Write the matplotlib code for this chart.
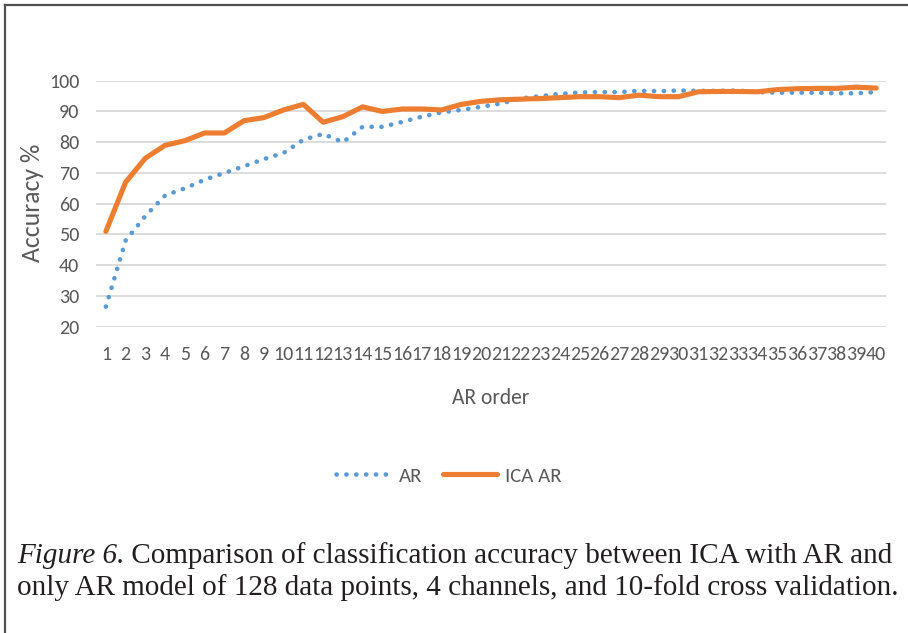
import numpy as np
import matplotlib.pyplot as plt
from matplotlib.lines import Line2D

# -------------------------------------------------------
# Data
# -------------------------------------------------------
orders = list(range(1, 41))
ar_acc = [26.5, 48, 56, 62.7, 65, 67.8, 70, 72.2, 74.5, 76.5,
          80.8, 82.7, 80, 85, 85, 86.6, 88.3, 89.7, 90.5, 91.5,
          92.6, 94.2, 95, 95.7, 96.2, 96.3, 96.3, 96.7, 96.6, 96.8,
          96.7, 96.7, 96.8, 96.3, 96.1, 96.1, 96.1, 95.9, 95.9, 96.3]
ica_ar_acc = [51, 67, 74.8, 79, 80.5, 83, 83, 87, 88, 90.5,
              92.3, 86.5, 88.3, 91.5, 90, 90.8, 90.8, 90.5, 92.3, 93.3,
              93.8, 94, 94.2, 94.5, 94.8, 94.8, 94.5, 95.3, 94.8, 94.8,
              96.4, 96.5, 96.5, 96.4, 97.1, 97.4, 97.5, 97.5, 97.9, 97.6]
yticks = [20, 30, 40, 50, 60, 70, 80, 90, 100]

BLUE = '#5B9BD5'
ORANGE = '#ED7D31'
GREY_TXT = '#595959'
SANS = ['Carlito', 'Roboto Condensed', 'DejaVu Sans']
SERIF = ['Liberation Serif', 'DejaVu Serif']
DOTS = (0, (0.05, 2.1))

W, H = 908, 633
fig = plt.figure(figsize=(W / 100, H / 100), dpi=100)

# axes placed in pixel coordinates of the reference
x0, x1 = 96.0, 886.0
y_top, y_bot = 80.7, 326.7
ax = fig.add_axes([x0 / W, 1 - y_bot / H, (x1 - x0) / W, (y_bot - y_top) / H])
ax.set_xlim(0.5, 40.5)
ax.set_ylim(20, 100)

ax.plot(orders, ar_acc, color=BLUE, lw=3.3, linestyle=DOTS,
        dash_capstyle='round', clip_on=False, label='AR')
ax.plot(orders, ica_ar_acc, color=ORANGE, lw=3.7, solid_capstyle='round',
        solid_joinstyle='round', clip_on=False, label='ICA AR')

ax.set_yticks(yticks)
ax.set_xticks(orders)
ax.set_xticklabels([str(o) for o in orders])
ax.yaxis.grid(True, color='#D9D9D9', lw=1.3)
ax.set_axisbelow(True)
for s in ax.spines.values():
    s.set_visible(False)
ax.tick_params(length=0, labelcolor=GREY_TXT)
ax.tick_params(axis='x', pad=14, labelsize=14.4)
ax.tick_params(axis='y', pad=12, labelsize=14.5)
for lab in ax.get_xticklabels() + ax.get_yticklabels():
    lab.set_family(SANS)

# axis titles
fig.text(33 / W, 1 - 203 / H, 'Accuracy %', rotation=90, ha='center', va='center',
         color=GREY_TXT, fontsize=18.5, family=SANS)
fig.text(491 / W, 1 - 398 / H, 'AR order', ha='center', va='center',
         color=GREY_TXT, fontsize=15.5, family=SANS)

# legend
handles = [Line2D([], [], color=BLUE, lw=3.3, linestyle=DOTS, dash_capstyle='round'),
           Line2D([], [], color=ORANGE, lw=3.7, solid_capstyle='round')]
leg = fig.legend(handles, ['AR', 'ICA AR'], loc='center', bbox_to_anchor=(449 / W, 1 - 476 / H),
                 ncol=2, frameon=False, handlelength=2.6, columnspacing=1.0, handletextpad=0.4,
                 prop={'family': SANS, 'size': 15})
for t in leg.get_texts():
    t.set_color(GREY_TXT)

# frame around the figure (top and left edges visible)
fig.add_artist(Line2D([5 / W, 1], [1 - 5 / H, 1 - 5 / H], color='#505050', lw=1.6))
fig.add_artist(Line2D([5 / W, 5 / W], [0, 1 - 5 / H], color='#505050', lw=1.6))

# caption
cap_size = 21
fig.canvas.draw()
r = fig.canvas.get_renderer()
t1 = fig.text(17 / W, 1 - 563 / H, 'Figure 6.', fontsize=cap_size, style='italic',
              family=SERIF, color='#231F20', va='baseline')
bb = t1.get_window_extent(renderer=r)
fig.text(bb.x1 / W, 1 - 563 / H, ' Comparison of classification accuracy between ICA with AR and',
         fontsize=cap_size, family=SERIF, color='#231F20', va='baseline')
fig.text(17 / W, 1 - 595 / H,
         'only AR model of 128 data points, 4 channels, and 10-fold cross validation.',
         fontsize=cap_size, family=SERIF, color='#231F20', va='baseline')

fig.savefig('out.png', dpi=100)
